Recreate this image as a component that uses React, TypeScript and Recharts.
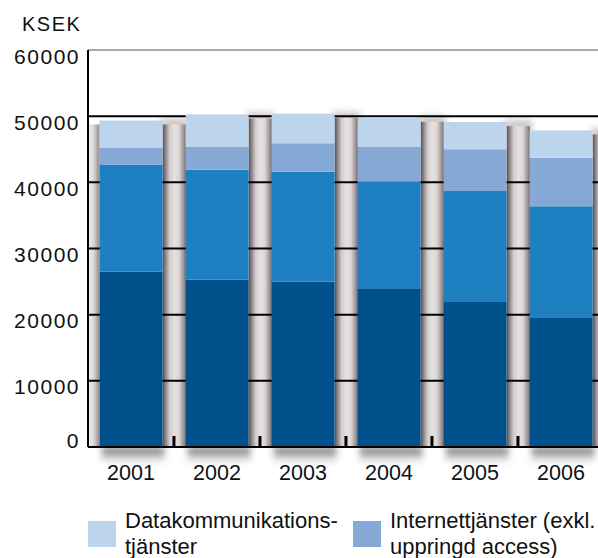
import { Bar, BarChart, CartesianGrid, ReferenceLine, XAxis, YAxis } from 'recharts'

// Stapeldiagram KSEK 2001–2006, fyra staplade delar (de två nedersta saknar synlig förklaring).

const years = ['2001', '2002', '2003', '2004', '2005', '2006']
const bottomPart = [26500, 25300, 25000, 24000, 21900, 19600]
const middlePart = [16200, 16600, 16600, 16100, 16800, 16800]
const internet = [2500, 3500, 4300, 5300, 6300, 7300]
const datakom = [4150, 4850, 4450, 4350, 4100, 4150]
const yTicks = [0, 10000, 20000, 30000, 40000, 50000, 60000]

const data = years.map((year, i) => ({
  year,
  bottomPart: bottomPart[i],
  middlePart: middlePart[i],
  internet: internet[i],
  datakom: datakom[i],
  total: bottomPart[i] + middlePart[i] + internet[i] + datakom[i],
}))

const FONT = '"Liberation Sans", Arial, sans-serif'
const GAP = 0.135
const colors = {
  bottomPart: '#00518b',
  middlePart: '#1e80c0',
  internet: '#86a8d5',
  datakom: '#bcd4ec',
}

// grå "pelare" mellan staplarna, skugga under och små markeringar på x-axeln
function Backdrop(props: any) {
  const { x, y, width, height, index } = props
  const band = width / (1 - 2 * GAP)
  const gap = (band - width) / 2
  const base = y + height
  return (
    <g>
      {index === 0 && (
        <rect x={x - gap} y={y + 4} width={gap} height={height - 4} fill="url(#pillarLeft)" />
      )}
      <rect x={x + width - 2} y={y - 2} width={gap * 2 + 4} height={14} fill="#9a9092" opacity={0.5} filter="url(#soft)" />
      <rect x={x + width} y={y + 4} width={gap * 2} height={height - 4} fill="url(#pillar)" />
      <rect x={x + 2} y={base} width={width} height={16} fill="url(#shadow)" filter="url(#soft)" />
      {index > 0 && <rect x={x - gap - 1.5} y={base - 11} width={3} height={11} fill="#000" />}
    </g>
  )
}

function YTick({ x, y, payload }: any) {
  return (
    <text
      x={x}
      y={y}
      dy={payload.value === 0 ? -7 : 6}
      textAnchor="end"
      dominantBaseline="central"
      fontFamily={FONT}
      fontSize={21}
      letterSpacing={1.5}
      fill="#111"
    >
      {payload.value}
    </text>
  )
}

function XTick({ x, y, payload }: any) {
  return (
    <text x={x} y={y + 33} textAnchor="middle" fontFamily={FONT} fontSize={21.5} fill="#111">
      {payload.value}
    </text>
  )
}

const legendItems = [
  { key: 'datakom', lines: ['Datakommunikations-', 'tjänster'], left: 88 },
  { key: 'internet', lines: ['Internettjänster (exkl.', 'uppringd access)'], left: 353 },
] as const

export default function App() {
  return (
    <div style={{ position: 'relative', width: 598, height: 558, overflow: 'hidden', fontFamily: FONT }}>
      <style>{'body{margin:0;overflow:hidden;background:#fff}'}</style>
      <div
        style={{
          position: 'absolute',
          left: 22,
          top: 14,
          fontSize: 20,
          lineHeight: 1,
          letterSpacing: 1.5,
          color: '#111',
        }}
      >
        KSEK
      </div>
      <BarChart
        width={604}
        height={558}
        data={data}
        margin={{ top: 50, right: 0, left: 0, bottom: 71 }}
        barCategoryGap="13.5%"
      >
        <defs>
          <linearGradient id="pillar" x1="0" y1="0" x2="1" y2="0">
            <stop offset="0" stopColor="#564c4e" />
            <stop offset="0.12" stopColor="#8a8183" />
            <stop offset="0.3" stopColor="#d2cccc" />
            <stop offset="0.5" stopColor="#e6e2e2" />
            <stop offset="0.7" stopColor="#dcd6d6" />
            <stop offset="0.88" stopColor="#a39a9c" />
            <stop offset="1" stopColor="#776d6f" />
          </linearGradient>
          <linearGradient id="pillarLeft" x1="0" y1="0" x2="1" y2="0">
            <stop offset="0" stopColor="#f2f0f0" />
            <stop offset="0.5" stopColor="#dcd6d6" />
            <stop offset="1" stopColor="#8f8688" />
          </linearGradient>
          <linearGradient id="shadow" x1="0" y1="0" x2="0" y2="1">
            <stop offset="0" stopColor="#4a4042" stopOpacity={0.75} />
            <stop offset="1" stopColor="#4a4042" stopOpacity={0} />
          </linearGradient>
          <filter id="soft" x="-20%" y="-50%" width="140%" height="200%">
            <feGaussianBlur stdDeviation="3" />
          </filter>
        </defs>
        <XAxis xAxisId="bg" dataKey="year" hide />
        <Bar
          xAxisId="bg"
          dataKey="total"
          shape={<Backdrop />}
          isAnimationActive={false}
          zIndex={-150}
        />
        <CartesianGrid
          vertical={false}
          horizontalValues={[10000, 20000, 30000, 40000, 50000]}
          stroke="#000"
          strokeWidth={2}
        />
        <ReferenceLine y={60000} stroke="#555" strokeWidth={1.2} />
        <XAxis
          dataKey="year"
          height={40}
          tickLine={false}
          tickSize={0}
          tickMargin={0}
          axisLine={{ stroke: '#000', strokeWidth: 2 }}
          tick={<XTick />}
        />
        <YAxis
          width={88}
          domain={[0, 60000]}
          ticks={yTicks}
          interval={0}
          tickLine={false}
          tickSize={0}
          tickMargin={8}
          axisLine={{ stroke: '#000', strokeWidth: 2 }}
          tick={<YTick />}
        />
        <Bar dataKey="bottomPart" stackId="a" fill={colors.bottomPart} isAnimationActive={false} />
        <Bar dataKey="middlePart" stackId="a" fill={colors.middlePart} isAnimationActive={false} />
        <Bar dataKey="internet" stackId="a" fill={colors.internet} isAnimationActive={false} />
        <Bar dataKey="datakom" stackId="a" fill={colors.datakom} isAnimationActive={false} />
      </BarChart>
      {legendItems.map((item) => (
        <div key={item.key}>
          <div
            style={{
              position: 'absolute',
              left: item.left,
              top: 521,
              width: 28,
              height: 26,
              background: colors[item.key],
            }}
          />
          <div
            style={{
              position: 'absolute',
              left: item.left + 37,
              top: 508,
              fontSize: 22,
              lineHeight: '26px',
              color: '#111',
              whiteSpace: 'nowrap',
            }}
          >
            {item.lines[0]}
            <br />
            {item.lines[1]}
          </div>
        </div>
      ))}
    </div>
  )
}
